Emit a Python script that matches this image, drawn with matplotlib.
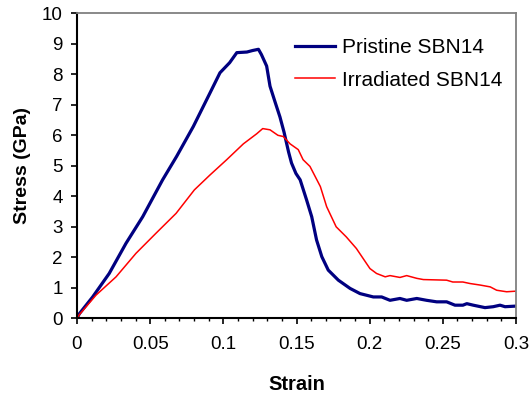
import matplotlib
matplotlib.use("Agg")
import matplotlib.pyplot as plt
from matplotlib.ticker import MultipleLocator

# Data
pristine_strain = [0, 0.0016, 0.0107, 0.0220, 0.0335, 0.0449, 0.0585, 0.0681, 0.0795,
                   0.0909, 0.0977, 0.1043, 0.1092, 0.1161, 0.1200, 0.1240, 0.1260,
                   0.1296, 0.1319, 0.1353, 0.1387, 0.1415, 0.1446, 0.1466, 0.1496,
                   0.1525, 0.1569, 0.1604, 0.1637, 0.1673, 0.1717, 0.1786, 0.1866,
                   0.1934, 0.2025, 0.2082, 0.2139, 0.2207, 0.2253, 0.2322, 0.2389,
                   0.2458, 0.2526, 0.2583, 0.2637, 0.2664, 0.2708, 0.2788, 0.2844,
                   0.2891, 0.2925, 0.3000]
pristine_stress = [0, 0.15, 0.70, 1.47, 2.46, 3.33, 4.54, 5.31, 6.29,
                   7.39, 8.05, 8.38, 8.71, 8.73, 8.78, 8.82, 8.65,
                   8.27, 7.61, 7.10, 6.60, 6.10, 5.45, 5.09, 4.75,
                   4.54, 3.88, 3.33, 2.57, 2.02, 1.58, 1.25, 0.98,
                   0.81, 0.70, 0.70, 0.59, 0.65, 0.59, 0.65, 0.59,
                   0.54, 0.54, 0.43, 0.43, 0.48, 0.43, 0.35, 0.38,
                   0.43, 0.38, 0.40]

irradiated_strain = [0, 0.0016, 0.0130, 0.0267, 0.0403, 0.0540, 0.0677, 0.0802, 0.0909,
                     0.1023, 0.1137, 0.1228, 0.1269, 0.1319, 0.1373, 0.1410, 0.1456,
                     0.1512, 0.1545, 0.1592, 0.1663, 0.1706, 0.1771, 0.1840, 0.1909,
                     0.1978, 0.2002, 0.2047, 0.2106, 0.2139, 0.2207, 0.2253, 0.2322,
                     0.2367, 0.2526, 0.2568, 0.2637, 0.2686, 0.2755, 0.2824, 0.2868,
                     0.2936, 0.3000]
irradiated_stress = [0, 0.12, 0.76, 1.36, 2.13, 2.79, 3.44, 4.21, 4.70,
                     5.20, 5.72, 6.05, 6.22, 6.18, 6.00, 5.96, 5.72,
                     5.53, 5.20, 4.98, 4.32, 3.66, 3.00, 2.67, 2.29,
                     1.80, 1.63, 1.47, 1.36, 1.40, 1.34, 1.40, 1.31,
                     1.27, 1.25, 1.19, 1.19, 1.14, 1.09, 1.03, 0.92,
                     0.87, 0.89]

x_ticks = [0, 0.05, 0.1, 0.15, 0.2, 0.25, 0.3]
x_tick_labels = ["0", "0.05", "0.1", "0.15", "0.2", "0.25", "0.3"]
y_ticks = list(range(0, 11))

plt.rcParams['font.family'] = ['Liberation Sans', 'DejaVu Sans']

fig = plt.figure(figsize=(5.32, 3.94), dpi=100)
ax = fig.add_axes([77/532, (394-318.3)/394, (516-77)/532, (318.3-13.3)/394])

ax.plot(pristine_strain, pristine_stress, color='#000080', lw=2.3,
        label='Pristine SBN14', solid_joinstyle='round')
ax.plot(irradiated_strain, irradiated_stress, color='#FF0000', lw=1.1,
        label='Irradiated SBN14')

ax.set_xlim(0, 0.3)
ax.set_ylim(0, 10)
ax.set_xticks(x_ticks)
ax.set_xticklabels(x_tick_labels)
ax.set_yticks(y_ticks)
ax.xaxis.set_minor_locator(MultipleLocator(0.01))

ax.tick_params(axis='both', which='major', direction='out', length=4.3, width=1.2,
               labelsize=13.5, colors='black')
ax.tick_params(axis='x', which='major', pad=8.5)
ax.tick_params(axis='y', which='major', pad=6)
ax.tick_params(axis='x', which='minor', direction='out', length=2.2, width=1.0)
ax.tick_params(top=False, right=False)

for s in ['left', 'bottom']:
    ax.spines[s].set_color('black')
    ax.spines[s].set_linewidth(1.5)
for s in ['top', 'right']:
    ax.spines[s].set_color('#808080')
    ax.spines[s].set_linewidth(1.3)

ax.set_xlabel('Strain', fontsize=14.5, fontweight='bold')
ax.set_ylabel('Stress (GPa)', fontsize=14, fontweight='bold')
ax.xaxis.set_label_coords(0.5, -(384 - 318.3) / 305)
ax.yaxis.set_label_coords(-(77 - 23) / 439, 0.5)
ax.xaxis.label.set_va('center')
ax.yaxis.label.set_va('center')

leg = ax.legend(loc='upper left', bbox_to_anchor=((295 - 77) / 439, 1 - (38 - 13.3) / 305),
                frameon=False, fontsize=15, handlelength=1.9, handletextpad=0.35,
                labelspacing=0.65, borderaxespad=0, borderpad=0)

fig.savefig('out.png', dpi=100)
